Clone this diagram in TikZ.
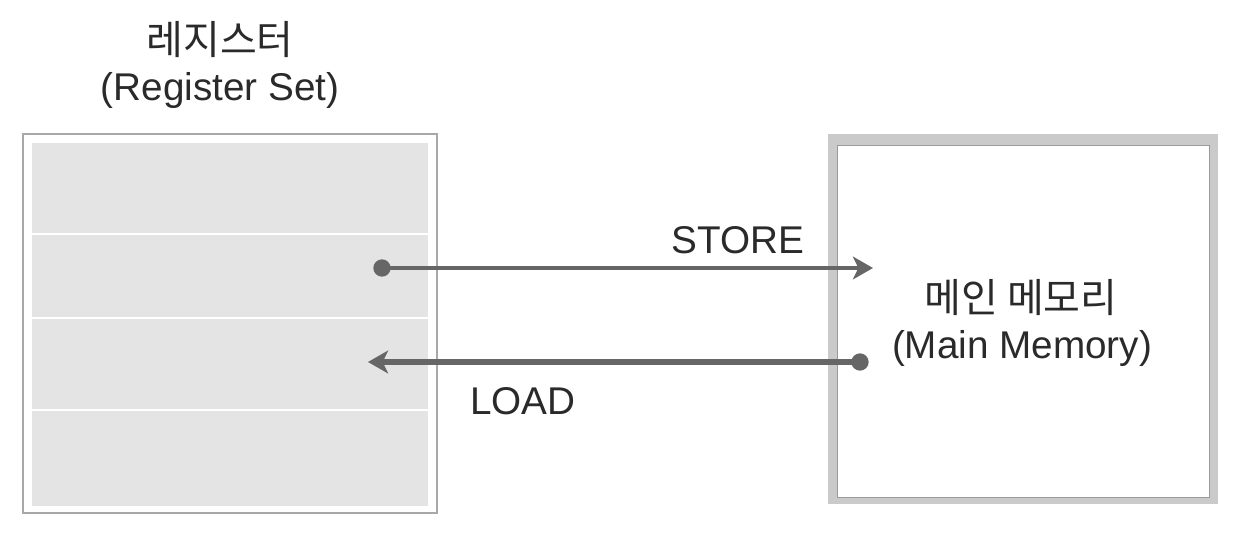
\documentclass[tikz,border=0pt]{standalone}
\usepackage{fontspec}
\setmainfont{Liberation Sans}
\newfontfamily\kr{Noto Sans CJK KR}
\usetikzlibrary{arrows.meta}
\definecolor{regfill}{HTML}{E4E4E4}
\definecolor{regborder}{HTML}{A8A8A8}
\definecolor{memband}{HTML}{CACACA}
\definecolor{meminner}{HTML}{9A9A9A}
\definecolor{arrowcol}{HTML}{666666}
\definecolor{txt}{HTML}{2A2A2A}
\begin{document}
\begin{tikzpicture}[x=0.75pt,y=-0.75pt,
  lat/.style={font=\fontsize{29}{34}\selectfont, text=txt, inner sep=0pt, anchor=base},
  kor/.style={font=\kr\fontsize{30}{36}\selectfont, text=txt, inner sep=0pt, anchor=center},
  conn/.style={draw=arrowcol, -{Stealth[length=15pt, width=17pt, inset=4pt]}},
  dotend/.style={circle, fill=arrowcol, inner sep=0pt, minimum size=13pt}
]
\useasboundingbox (0,0) rectangle (1246,540);
\fill[white] (0,0) rectangle (1246,540);
% register box
\draw[regborder, line width=1.2pt] (23,134) rectangle (437,513);
\fill[regfill] (32,143) rectangle (428,506);
\foreach \yy in {234,318,410} \draw[white, line width=1.5pt] (32,\yy) -- (428,\yy);
\node[kor] (regk) at (220,40) {레지스터};
\node[lat] (rege) at (220,100) {(Register Set)};
% memory box
\fill[memband] (828,134) rectangle (1218,504);
\fill[white] (837,145) rectangle (1209,497);
\draw[meminner, line width=0.6pt] (837,145) rectangle (1209,497);
\node[kor] (memk) at (1021,298) {메인 메모리};
\node[lat] (meme) at (1022,358) {(Main Memory)};
% endpoints
\node[dotend] (sdot) at (382,268) {};
\coordinate (stip) at (873,268);
\node[dotend] (ldot) at (860,362) {};
\coordinate (ltip) at (368,362);
\draw[conn, line width=3.2pt] (sdot.center) -- (stip);
\draw[conn, line width=4.5pt] (ldot.center) -- (ltip);
\node[lat] (store) at (738,253) {STORE};
\node[lat] (load) at (523,414) {LOAD};
\end{tikzpicture}
\end{document}
